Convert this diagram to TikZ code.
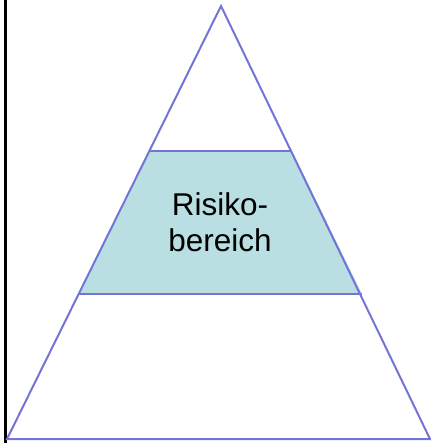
\documentclass[tikz,border=0pt]{standalone}
\usepackage{fontspec}
\setmainfont{Liberation Sans}
\definecolor{edge}{HTML}{7474D8}
\definecolor{band}{HTML}{BADFE3}
\begin{document}
\begin{tikzpicture}[x=1pt,y=-1pt,
  outline/.style={draw=edge,line width=2pt,line join=miter},
  label/.style={font=\fontsize{31.5}{36}\selectfont,align=center,inner sep=0pt}]
\useasboundingbox (0,0) rectangle (430,443);
% corners of the pyramid and of the middle band
\coordinate (apex) at (221,6);
\coordinate (bl) at (7,439);
\coordinate (br) at (430,439);
\coordinate (tl) at (149,151);
\coordinate (tr) at (292,151);
\coordinate (ml) at (79,294);
\coordinate (mr) at (362,294);
% left frame edge
\draw[line width=2.8pt,black] (5.3,0) -- (5.3,443);
% shaded middle band
\fill[band] (tl) -- (tr) -- (mr) -- (ml) -- cycle;
\draw[outline] (tl) -- (tr);
\draw[outline] (ml) -- (mr);
% pyramid outline
\draw[outline] (apex) -- (br) -- (bl) -- cycle;
\node[label] (risk) at (220,222) {Risiko-\\bereich};
\end{tikzpicture}
\end{document}
